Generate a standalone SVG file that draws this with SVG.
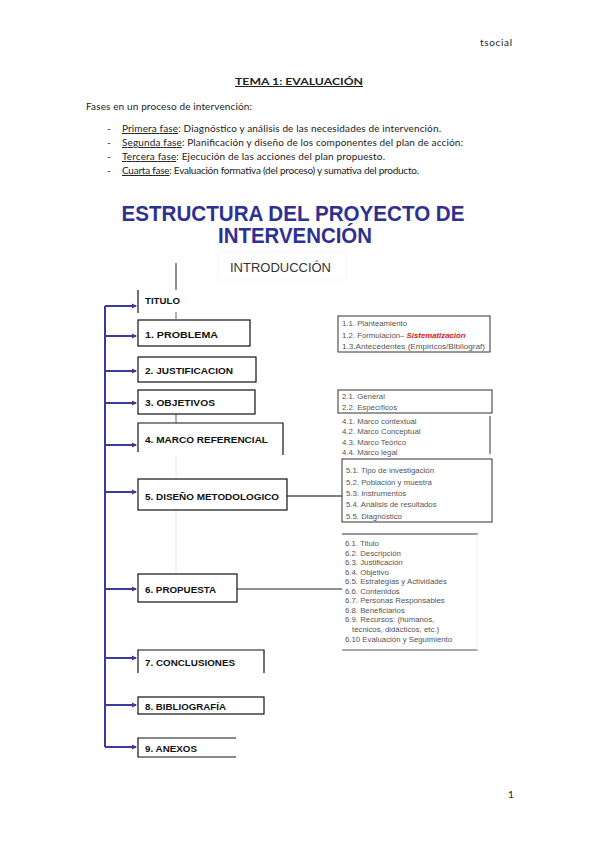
<svg xmlns="http://www.w3.org/2000/svg" width="599" height="848" viewBox="0 0 599 848">
<style>
.body{font-family:Lato,"Open Sans","Liberation Sans",sans-serif;fill:#222;font-size:10px}
.ul{text-decoration:underline}
.lbl{font-family:"Liberation Sans",Arial,sans-serif;font-weight:bold;font-size:9.5px;fill:#111}
.sm{font-family:"Liberation Sans",Arial,sans-serif;font-size:7.8px;fill:#555}
.box{fill:none;stroke:#111;stroke-width:1.2}
.rb{fill:none;stroke:#333;stroke-width:1}
.blue{fill:none;stroke:#3B3B9B;stroke-width:2}
</style>
<defs>
<marker id="ah" markerWidth="6" markerHeight="6" refX="4" refY="3" orient="auto" markerUnits="userSpaceOnUse">
<path d="M0,0.5 L5,3 L0,5.5 Z" fill="#3B3B9B"/>
</marker>
</defs>
<rect width="599" height="848" fill="#fff"/>

<g id="header">
<text class="body" x="480" y="46" textLength="32" lengthAdjust="spacing">tsocial</text>
<text class="body ul" x="299" y="85" text-anchor="middle" font-weight="bold" font-size="12.5" textLength="128" lengthAdjust="spacingAndGlyphs">TEMA 1: EVALUACIÓN</text>
<text class="body" x="86" y="110" textLength="166" lengthAdjust="spacing">Fases en un proceso de intervención:</text>
<text class="body" x="107" y="132">-</text>
<text class="body" x="122" y="132" textLength="319" lengthAdjust="spacing"><tspan class="ul">Primera fase</tspan>: Diagnóstico y análisis de las necesidades de intervención.</text>
<text class="body" x="107" y="146">-</text>
<text class="body" x="122" y="146" textLength="341" lengthAdjust="spacing"><tspan class="ul">Segunda fase</tspan>: Planificación y diseño de los componentes del plan de acción:</text>
<text class="body" x="107" y="160">-</text>
<text class="body" x="122" y="160" textLength="263" lengthAdjust="spacing"><tspan class="ul">Tercera fase</tspan>: Ejecución de las acciones del plan propuesto.</text>
<text class="body" x="107" y="174">-</text>
<text class="body" x="122" y="174" textLength="297" lengthAdjust="spacing"><tspan class="ul">Cuarta fase</tspan>: Evaluación formativa (del proceso) y sumativa del producto.</text>
</g>

<g id="title">
<text x="293" y="221" text-anchor="middle" font-family="'Liberation Sans',Arial,sans-serif" font-weight="bold" font-size="21.5" fill="#2E3192" textLength="343" lengthAdjust="spacingAndGlyphs">ESTRUCTURA DEL PROYECTO DE</text>
<text x="295" y="243" text-anchor="middle" font-family="'Liberation Sans',Arial,sans-serif" font-weight="bold" font-size="21.5" fill="#2E3192" textLength="154" lengthAdjust="spacingAndGlyphs">INTERVENCIÓN</text>
</g>

<g id="introduccion">
<rect x="218" y="252" width="128" height="28" fill="none" stroke="#f7f7f7" stroke-width="1"/>
<text x="230" y="272" font-family="'Liberation Sans',Arial,sans-serif" font-size="12.5" fill="#333" textLength="101" lengthAdjust="spacingAndGlyphs">INTRODUCCIÓN</text>
</g>

<g id="connectors">
<line x1="176" y1="263" x2="176" y2="290" stroke="#222" stroke-width="1"/>
<line x1="176" y1="312" x2="176" y2="319" stroke="#666" stroke-width="1"/>
<line x1="176" y1="414" x2="176" y2="423" stroke="#666" stroke-width="1"/>
<line x1="176" y1="455" x2="176" y2="479" stroke="#e6e6e6" stroke-width="1"/>
<line x1="176" y1="510" x2="176" y2="573" stroke="#e6e6e6" stroke-width="1"/>
<line x1="287" y1="496" x2="342" y2="496" stroke="#555" stroke-width="1.5"/>
<line x1="237" y1="589" x2="342" y2="589" stroke="#222" stroke-width="1"/>
<path class="blue" d="M105,306 L105,747"/>
<path class="blue" d="M105,306 H136" marker-end="url(#ah)"/>
<path class="blue" d="M105,336 H136" marker-end="url(#ah)"/>
<path class="blue" d="M105,371 H136" marker-end="url(#ah)"/>
<path class="blue" d="M105,403 H136" marker-end="url(#ah)"/>
<path class="blue" d="M105,445 H136" marker-end="url(#ah)"/>
<path class="blue" d="M105,492 H136" marker-end="url(#ah)"/>
<path class="blue" d="M105,589 H136" marker-end="url(#ah)"/>
<path class="blue" d="M105,658 H136" marker-end="url(#ah)"/>
<path class="blue" d="M105,705 H136" marker-end="url(#ah)"/>
<path class="blue" d="M105,747 H136" marker-end="url(#ah)"/>
</g>

<g id="n-titulo">
<line x1="138" y1="290" x2="138" y2="313" stroke="#111" stroke-width="1.2"/>
<text class="lbl" x="145" y="304" textLength="35" lengthAdjust="spacingAndGlyphs">TITULO</text>
</g>
<g id="n-problema">
<rect class="box" x="138" y="320" width="112" height="26"/>
<text class="lbl" x="145" y="338" textLength="73" lengthAdjust="spacingAndGlyphs">1. PROBLEMA</text>
</g>
<g id="n-justificacion">
<rect class="box" x="138" y="357" width="118" height="25"/>
<text class="lbl" x="145" y="374" textLength="88" lengthAdjust="spacingAndGlyphs">2. JUSTIFICACION</text>
</g>
<g id="n-objetivos">
<rect class="box" x="138" y="390" width="117" height="24"/>
<text class="lbl" x="145" y="406" textLength="70" lengthAdjust="spacingAndGlyphs">3. OBJETIVOS</text>
</g>
<g id="n-marco">
<path class="box" d="M138,452 V423 H283 V455"/>
<text class="lbl" x="145" y="443" textLength="123" lengthAdjust="spacingAndGlyphs">4. MARCO  REFERENCIAL</text>
</g>
<g id="n-diseno">
<rect class="box" x="138" y="479" width="149" height="31"/>
<text class="lbl" x="145" y="500" textLength="134" lengthAdjust="spacingAndGlyphs">5. DISEÑO METODOLOGICO</text>
</g>
<g id="n-propuesta">
<rect class="box" x="138" y="574" width="99" height="28"/>
<text class="lbl" x="145" y="593" textLength="71" lengthAdjust="spacingAndGlyphs">6. PROPUESTA</text>
</g>
<g id="n-conclusiones">
<path class="box" d="M138,673 V650 H264 V673"/>
<text class="lbl" x="145" y="666" textLength="90" lengthAdjust="spacingAndGlyphs">7. CONCLUSIONES</text>
</g>
<g id="n-bibliografia">
<rect class="box" x="138" y="697" width="126" height="17"/>
<text class="lbl" x="145" y="710" textLength="81" lengthAdjust="spacingAndGlyphs">8. BIBLIOGRAFÍA</text>
</g>
<g id="n-anexos">
<path class="box" d="M236,738 H138 V757 H236"/>
<text class="lbl" x="145" y="752" textLength="52" lengthAdjust="spacingAndGlyphs">9. ANEXOS</text>
</g>

<g id="r-problema">
<rect class="rb" x="338" y="316" width="152" height="36"/>
<text class="sm" x="342" y="326">1.1. Planteamiento</text>
<text class="sm" x="342" y="338">1.2. Formulación– <tspan fill="#D42020" font-weight="bold" font-style="italic">Sistematización</tspan></text>
<text class="sm" x="342" y="349" textLength="143" lengthAdjust="spacingAndGlyphs">1.3.Antecedentes (Empiricos/Bibliograf)</text>
</g>
<g id="r-objetivos">
<rect class="rb" x="338" y="390" width="154" height="23"/>
<text class="sm" x="342" y="399" fill="#888">2.1. General</text>
<text class="sm" x="342" y="410" fill="#888">2.2. Específicos</text>
</g>
<g id="r-marco">
<line x1="490" y1="416" x2="490" y2="454" stroke="#333" stroke-width="1"/>
<text class="sm" x="342" y="424">4.1. Marco contextual</text>
<text class="sm" x="342" y="434">4.2. Marco Conceptual</text>
<text class="sm" x="342" y="445">4.3. Marco Teórico</text>
<text class="sm" x="342" y="455" fill="#888">4.4. Marco legal</text>
</g>
<g id="r-diseno">
<rect class="rb" x="342" y="459" width="150" height="63"/>
<text class="sm" x="346" y="473">5.1. Tipo de investigación</text>
<text class="sm" x="346" y="485">5.2. Población y muestra</text>
<text class="sm" x="346" y="496">5.3. Instrumentos</text>
<text class="sm" x="346" y="507">5.4. Análisis de resultados</text>
<text class="sm" x="346" y="519">5.5. Diagnóstico</text>
</g>
<g id="r-propuesta">
<line x1="342" y1="534" x2="478" y2="534" stroke="#333" stroke-width="1.2"/>
<line x1="342" y1="650" x2="478" y2="650" stroke="#555" stroke-width="1.2"/>
<line x1="477" y1="534" x2="477" y2="650" stroke="#eeeeee" stroke-width="1"/>
<text class="sm" x="345" y="546">6.1.  Titulo</text>
<text class="sm" x="345" y="556">6.2.   Descripción</text>
<text class="sm" x="345" y="565">6.3.  Justificación</text>
<text class="sm" x="345" y="575">6.4.  Objetivo</text>
<text class="sm" x="345" y="584">6.5.  Estrategias y Actividades</text>
<text class="sm" x="345" y="594">6.6.  Contenidos</text>
<text class="sm" x="345" y="603">6.7.  Personas Responsables</text>
<text class="sm" x="345" y="613">6.8.  Beneficiarios</text>
<text class="sm" x="345" y="622">6.9.  Recursos: (humanos,</text>
<text class="sm" x="352" y="632">técnicos, didácticos, etc.)</text>
<text class="sm" x="345" y="642">6.10 Evaluación y Seguimiento</text>
</g>

<g id="footer">
<text class="body" x="508" y="798" font-size="11">1</text>
</g>
</svg>
